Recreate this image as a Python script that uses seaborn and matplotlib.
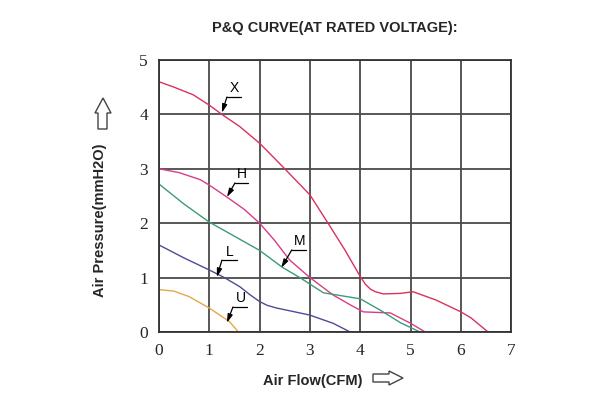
import numpy as np
import pandas as pd
import matplotlib
matplotlib.use("Agg")
import matplotlib.pyplot as plt
from matplotlib.patches import Polygon
import seaborn as sns

# ---- data ----
x_flow = [0, 0.3, 0.68, 1.0, 1.25, 1.6, 2.0, 2.5, 3.0, 3.36, 3.7, 3.9, 4.0, 4.1, 4.2, 4.3, 4.46, 4.8, 5.05, 5.5, 6.0, 6.2, 6.54]
x_pres = [4.6, 4.5, 4.36, 4.17, 4.0, 3.78, 3.47, 3.0, 2.52, 2.0, 1.5, 1.18, 1.02, 0.88, 0.79, 0.74, 0.70, 0.71, 0.74, 0.59, 0.37, 0.26, 0.0]

h_flow = [0, 0.4, 0.82, 1.0, 1.35, 1.7, 2.0, 2.3, 2.6, 3.0, 3.46, 3.8, 4.06, 4.6, 5.0, 5.29]
h_pres = [3.0, 2.93, 2.8, 2.7, 2.48, 2.25, 2.0, 1.68, 1.32, 1.0, 0.68, 0.5, 0.37, 0.35, 0.16, 0.0]

m_flow = [0, 0.5, 1.0, 1.5, 2.0, 2.45, 2.8, 3.0, 3.27, 3.67, 4.0, 4.4, 4.8, 5.19]
m_pres = [2.72, 2.35, 2.02, 1.76, 1.5, 1.19, 1.0, 0.88, 0.72, 0.66, 0.61, 0.40, 0.17, 0.0]

l_flow = [0, 0.5, 1.0, 1.3, 1.61, 1.8, 2.0, 2.15, 2.34, 2.7, 3.0, 3.46, 3.8]
l_pres = [1.6, 1.36, 1.14, 1.0, 0.83, 0.69, 0.56, 0.49, 0.44, 0.37, 0.31, 0.16, 0.0]

u_flow = [0, 0.3, 0.6, 1.0, 1.4, 1.58]
u_pres = [0.78, 0.75, 0.65, 0.44, 0.19, 0.0]

series_names = ["X", "H", "M", "L", "U"]
series_colors = ["#d8325c", "#d83c8c", "#3c9c72", "#4c4c96", "#e4a848"]

x_ticks = [0, 1, 2, 3, 4, 5, 6, 7]
y_ticks = [0, 1, 2, 3, 4, 5]

title = "P&Q CURVE(AT RATED VOLTAGE):"
xlabel = "Air Flow(CFM)"
ylabel = "Air Pressure(mmH2O)"

# labels: name, curve point, elbow, underline end
label_specs = [
    ("X", (1.25, 4.03), (1.35, 4.32), (1.63, 4.32)),
    ("H", (1.35, 2.48), (1.51, 2.74), (1.77, 2.74)),
    ("M", (2.43, 1.18), (2.64, 1.51), (2.92, 1.51)),
    ("L", (1.15, 1.01), (1.25, 1.32), (1.55, 1.32)),
    ("U", (1.35, 0.17), (1.47, 0.46), (1.75, 0.46)),
]

flows = [x_flow, h_flow, m_flow, l_flow, u_flow]
press = [x_pres, h_pres, m_pres, l_pres, u_pres]
frames = []
for n, f, p in zip(series_names, flows, press):
    frames.append(pd.DataFrame({"flow": f, "pressure": p, "curve": n}))
df = pd.concat(frames, ignore_index=True)

sns.set_style("white")
plt.rcParams["font.family"] = ["Liberation Sans", "DejaVu Sans"]

fig = plt.figure(figsize=(6, 4), dpi=100)
ax = fig.add_axes([0.265, 0.17, 0.587, 0.68])

sns.lineplot(data=df, x="flow", y="pressure", hue="curve", units="curve",
             estimator=None, sort=False, palette=dict(zip(series_names, series_colors)),
             linewidth=1.0, legend=False, ax=ax)

ax.set_xlim(0, 7)
ax.set_ylim(0, 5)
ax.set_xticks(x_ticks)
ax.set_yticks(y_ticks)
ax.set_xticklabels([str(t) for t in x_ticks], family="Liberation Serif", fontsize=12.5)
ax.set_yticklabels([str(t) for t in y_ticks], family="Liberation Serif", fontsize=12.5)
ax.tick_params(axis="both", length=0, pad=8)
ax.grid(True, color="#4a4a4a", linewidth=1.3)
for s in ax.spines.values():
    s.set_color("#333333")
    s.set_linewidth(1.3)
ax.set_xlabel("")
ax.set_ylabel("")

for name, tip, elbow, end in label_specs:
    ax.plot([end[0], elbow[0]], [end[1], elbow[1]], color="black", lw=0.9)
    ax.annotate("", xy=tip, xytext=elbow,
                arrowprops=dict(arrowstyle="-|>,head_length=0.5,head_width=0.15",
                                color="black", lw=0.9, shrinkA=0, shrinkB=0))
    ax.text((elbow[0] + end[0]) / 2 + 0.01, elbow[1] + 0.03, name,
            ha="center", va="bottom", fontsize=10, color="black")

fig.text(0.558, 0.93, title, ha="center", va="center", fontsize=10.5, fontweight="bold")
fig.text(0.522, 0.047, xlabel, ha="center", va="center", fontsize=10.5, fontweight="bold")
fig.text(0.167, 0.45, ylabel, ha="center", va="center", fontsize=10.5,
         fontweight="bold", rotation=90)

# hollow arrows (figure pixel coords -> fraction)
W, H = 600.0, 400.0
up = [(98, 129), (98, 113), (95, 113), (103, 98), (111, 113), (107, 113), (107, 129)]
right = [(373, 374), (389, 374), (389, 371), (403, 378), (389, 385), (389, 382), (373, 382)]
for pts in (up, right):
    poly = Polygon([(x / W, 1 - y / H) for x, y in pts], closed=True,
                   transform=fig.transFigure, facecolor="white",
                   edgecolor="#444444", linewidth=1.0)
    fig.patches.append(poly)

fig.savefig("out.png", dpi=100)
